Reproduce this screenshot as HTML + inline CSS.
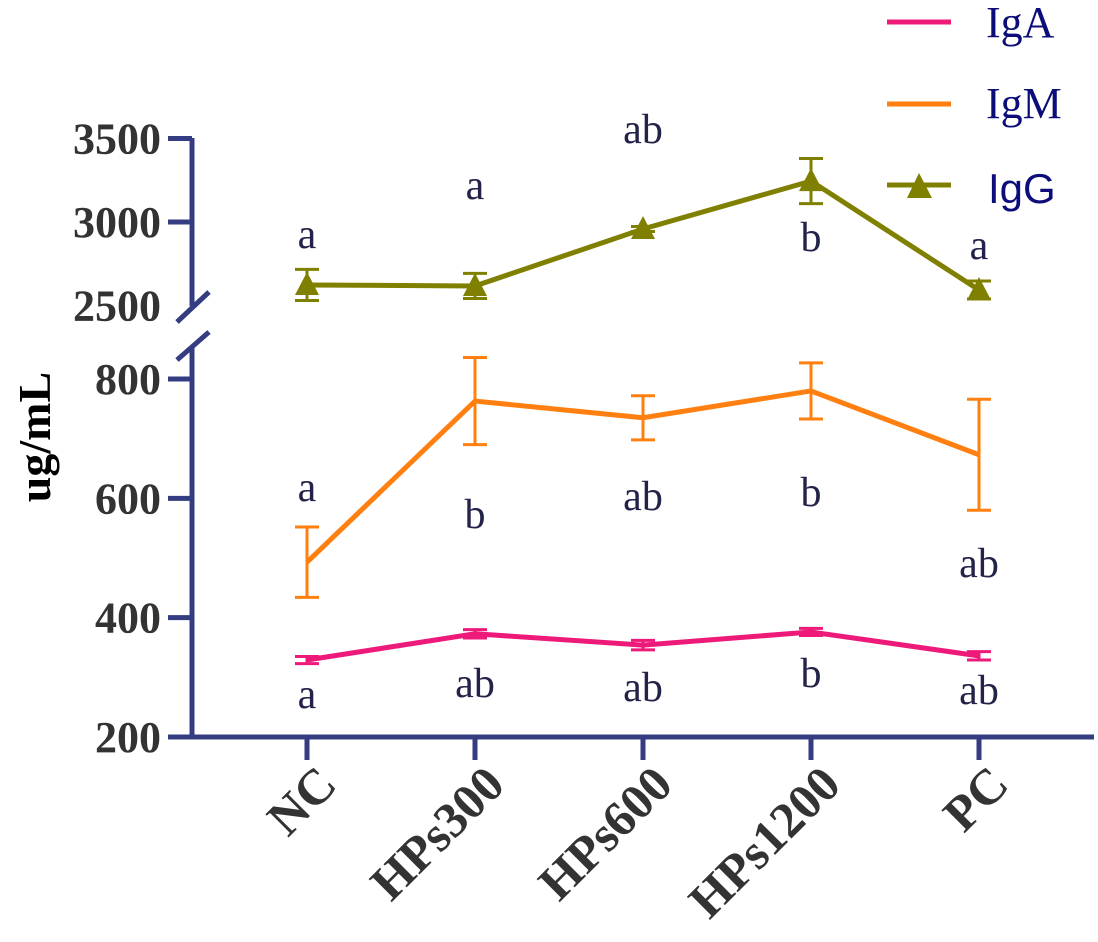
<!DOCTYPE html>
<html><head><meta charset="utf-8"><style>
body{margin:0;background:#fff}
svg{display:block}
text{font-family:"Liberation Serif",serif}
</style></head><body>
<svg id="chart" width="1098" height="942">
<g id="axes"></g>
<g id="marks"></g>
<g id="legend">
<line x1="887" y1="22" x2="951" y2="22" stroke="#ee1a7a" stroke-width="5"/>
<text x="986" y="37" font-size="44" fill="#0d0d7a">IgA</text>
<line x1="887" y1="104" x2="951" y2="104" stroke="#ff8010" stroke-width="5"/>
<text x="986" y="118" font-size="44" fill="#0d0d7a">IgM</text>
<line x1="887" y1="185" x2="951" y2="185" stroke="#808000" stroke-width="5"/>
<polygon points="919,173 907,198 932,198" fill="#808000"/>
<text x="988" y="203" font-size="42" fill="#0d0d7a" style="font-family:'Liberation Sans',sans-serif">IgG</text>
</g>
</svg>
<script>
const categories=["NC","HPs300","HPs600","HPs1200","PC"];
const igaValues=[329,373,354,376,336];
const igaErrors=[6,7,8,6,7];
const igmValues=[493,763,735,780,673];
const igmErrors=[59,73,37,47,93];
const iggValues=[2623,2617,2958,3245,2593];
const iggErrors=[93,75,15,135,54];
const lowerTicks=[200,400,600,800];
const upperTicks=[2500,3000,3500];
const igaLetters=["a","ab","ab","b","ab"];
const igmLetters=["a","b","ab","b","ab"];
const iggLetters=["a","a","ab","b","a"];
const NS="http://www.w3.org/2000/svg";
const AX="#343c82";
function xs(i){return 307+i*168;}
function yLow(v){return 737-(v-200)*0.5967;}
function yUp(v){return 222-(v-3000)*0.167;}
function mk(tag,attrs,parent,txt){const e=document.createElementNS(NS,tag);for(const k in attrs)e.setAttribute(k,attrs[k]);if(txt!==undefined)e.textContent=txt;parent.appendChild(e);return e;}
const axes=document.getElementById('axes'),marks=document.getElementById('marks');
let e;
e=mk('line',{x1:192,y1:138,x2:192,y2:306,stroke:AX,'stroke-width':5},axes);


e=mk('line',{x1:192,y1:346,x2:192,y2:739,stroke:AX,'stroke-width':5},axes);


e=mk('line',{x1:177,y1:322,x2:209,y2:292,stroke:AX,'stroke-width':5},axes);


e=mk('line',{x1:177,y1:360,x2:209,y2:332,stroke:AX,'stroke-width':5},axes);


e=mk('line',{x1:168,y1:737,x2:1094,y2:737,stroke:AX,'stroke-width':5},axes);


lowerTicks.forEach(t=>{const y=yLow(t);
e=mk('line',{x1:168,y1:y,x2:192,y2:y,stroke:AX,'stroke-width':5},axes);


e=mk('text',{x:161,y:y+15,'font-size':44,'font-weight':'bold','text-anchor':'end',fill:'#333'},axes,t);

});
upperTicks.forEach(t=>{const y=yUp(t);
if(t!==2500){e=mk('line',{x1:168,y1:y,x2:192,y2:y,stroke:AX,'stroke-width':5},axes);

}
e=mk('text',{x:161,y:y+15,'font-size':44,'font-weight':'bold','text-anchor':'end',fill:'#333'},axes,t);

});
e=mk('text',{x:0,y:0,'font-size':46,'font-weight':'bold','text-anchor':'middle',fill:'#000',transform:'translate(50,437) rotate(-90)'},axes,'ug/mL');


categories.forEach((c,i)=>{const x=xs(i);
e=mk('line',{x1:x,y1:737,x2:x,y2:760,stroke:AX,'stroke-width':5},axes);


e=mk('text',{x:0,y:0,'font-size':50,'font-weight':'bold','text-anchor':'end',fill:'#333',transform:`translate(${x+32},${787}) rotate(-45)`},axes,c);

});
function series(vals,errs,yf,color,name,marker){
const pts=vals.map((v,i)=>xs(i)+','+yf(v)).join(' ');
e=mk('polyline',{points:pts,fill:'none',stroke:color,'stroke-width':5},marks);


vals.forEach((v,i)=>{const x=xs(i),t=yf(v+errs[i]),b=yf(v-errs[i]);
e=mk('path',{d:`M${x},${t}V${b}M${x-12},${t}H${x+12}M${x-12},${b}H${x+12}`,stroke:color,'stroke-width':3,fill:'none'},marks);


if(marker){const y=yf(v);
e=mk('polygon',{points:`${x},${y-13} ${x-12},${y+10} ${x+12},${y+10}`,fill:color},marks);

}});}
series(igaValues,igaErrors,yLow,'#ee1a7a','iga',false);
series(igmValues,igmErrors,yLow,'#ff8010','igm',false);
series(iggValues,iggErrors,yUp,'#808000','igg',true);
function letters(arr,ys,name){arr.forEach((l,i)=>{
e=mk('text',{x:xs(i),y:ys[i],'font-size':42,'text-anchor':'middle',fill:'#23234a'},marks,l);

});}
letters(igaLetters,[708,697,701,687,704],'iga');
letters(igmLetters,[501,528,510,506,577],'igm');
letters(iggLetters,[248,199,143,251,259],'igg');
</script>
</body></html>
